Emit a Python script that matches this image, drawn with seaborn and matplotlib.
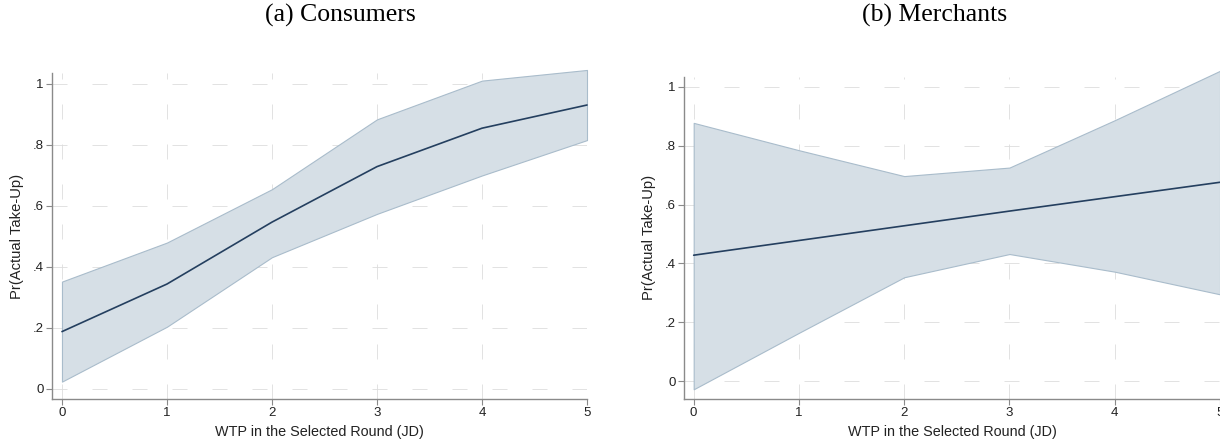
import matplotlib
matplotlib.use("Agg")
import matplotlib.pyplot as plt
import seaborn as sns
import numpy as np
import pandas as pd

# ---- data ----
wtp = [0, 1, 2, 3, 4, 5]
cons_mean = [0.188, 0.344, 0.547, 0.729, 0.855, 0.931]
cons_lo = [0.024, 0.204, 0.432, 0.574, 0.700, 0.816]
cons_hi = [0.352, 0.480, 0.655, 0.884, 1.011, 1.046]
merch_mean = [0.428, 0.478, 0.528, 0.578, 0.627, 0.676]
merch_lo = [-0.028, 0.164, 0.353, 0.432, 0.372, 0.295]
merch_hi = [0.878, 0.785, 0.697, 0.726, 0.887, 1.055]
yticks = [0, 0.2, 0.4, 0.6, 0.8, 1.0]
ytick_labels = ["0", ".2", ".4", ".6", ".8", "1"]
xticks = [0, 1, 2, 3, 4, 5]
titles = ["(a) Consumers", "(b) Merchants"]
xlabel = "WTP in the Selected Round (JD)"
ylabel = "Pr(Actual Take-Up)"

sns.set_theme(style="white")
plt.rcParams["font.family"] = ["Liberation Sans", "DejaVu Sans"]

fig = plt.figure(figsize=(12.2, 4.42), dpi=100)
W, H = 1220, 442

def add_axes(x0, x1, ytop, ybot):
    return fig.add_axes([x0 / W, 1 - ybot / H, (x1 - x0) / W, (ybot - ytop) / H])

ax1 = add_axes(52, 587, 73.3, 399)
ax2 = add_axes(684, 1220, 76.7, 399)

line_c = "#243f5f"
fill_c = "#d6dfe6"
edge_c = "#a9bccb"

panels = [
    (ax1, cons_mean, cons_lo, cons_hi, (-0.095, 5.0), (-0.033, 1.035)),
    (ax2, merch_mean, merch_lo, merch_hi, (-0.092, 5.0), (-0.061, 1.035)),
]

for ax, m, lo, hi, xl, yl in panels:
    df = pd.DataFrame({"wtp": wtp, "mean": m})
    ax.fill_between(wtp, lo, hi, color=fill_c, edgecolor=edge_c,
                    linewidth=0.8, zorder=2, clip_on=False)
    sns.lineplot(data=df, x="wtp", y="mean", ax=ax, color=line_c,
                 linewidth=1.2, zorder=3, clip_on=False)
    ax.set_xlim(*xl)
    ax.set_ylim(*yl)
    ax.set_xticks(xticks)
    ax.set_xticklabels([str(t) for t in xticks])
    ax.set_yticks(yticks)
    ax.set_yticklabels(ytick_labels)
    ax.grid(True, color="#dddddd", linestyle=(0, (18, 30)), linewidth=0.6, zorder=1)
    ax.set_axisbelow(True)
    for s in ["top", "right"]:
        ax.spines[s].set_visible(False)
    for s in ["left", "bottom"]:
        ax.spines[s].set_color("#8a8a8a")
        ax.spines[s].set_linewidth(1.0)
    ax.tick_params(axis="both", which="major", direction="out", length=4,
                   width=0.8, color="#8a8a8a", labelsize=9.5, labelcolor="#222222",
                   bottom=True, left=True, pad=2)
    ax.set_xlabel(xlabel, fontsize=10.4, color="#222222", labelpad=4)
    ax.set_ylabel(ylabel, fontsize=10.6, color="#222222", labelpad=6)

fig.text(340 / W, 1 - 15 / H, titles[0], ha="center", va="center",
         fontsize=18.5, family=["Liberation Serif", "DejaVu Serif"], color="black")
fig.text(935 / W, 1 - 15 / H, titles[1], ha="center", va="center",
         fontsize=18.5, family=["Liberation Serif", "DejaVu Serif"], color="black")

fig.savefig("out.png", dpi=100)
